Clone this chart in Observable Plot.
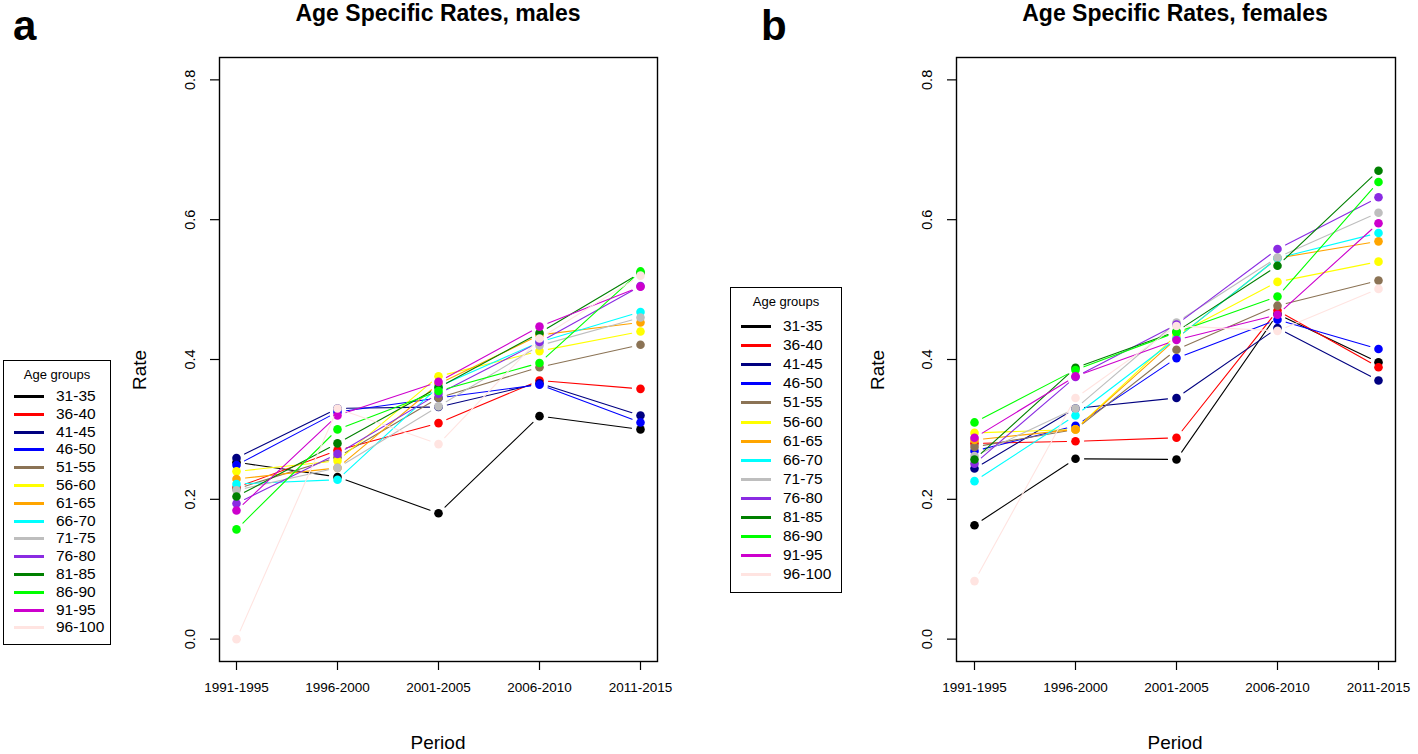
<!DOCTYPE html>
<html><head><meta charset="utf-8">
<script src="https://cdn.jsdelivr.net/npm/d3@7"></script>
<script src="https://cdn.jsdelivr.net/npm/@observablehq/plot@0.6"></script>
<style>
body{margin:0;background:#fff;font-family:"Liberation Sans",Arial,sans-serif;}
#root{position:relative;width:1418px;height:754px;overflow:hidden;background:#fff;}
.svgwrap{position:absolute;top:0;}
.t{position:absolute;white-space:nowrap;color:#000;line-height:1;}
.title{font-weight:bold;font-size:23px;transform:translateX(-50%);}
.panel{font-weight:bold;font-size:42px;}
.xlab{font-size:19px;transform:translateX(-50%);}
.ylab{font-size:19px;transform:translate(-50%,-50%) rotate(-90deg);}
.legend{position:absolute;border:1px solid #000;background:#fff;padding:0;box-sizing:border-box;}
.legend .lt{position:absolute;font-size:13px;left:0;right:0;text-align:center;white-space:nowrap;}
.legend .it{position:absolute;left:0;right:0;height:18px;}
.legend .sw{position:absolute;left:10px;width:30px;height:3px;top:8px;}
.legend .tx{position:absolute;left:52px;top:0;font-size:15.5px;line-height:18px;white-space:nowrap;}
</style></head><body><div id="root"></div>
<script>
const periods = ["1991-1995","1996-2000","2001-2005","2006-2010","2011-2015"];
const ageGroups = ["31-35","36-40","41-45","46-50","51-55","56-60","61-65","66-70","71-75","76-80","81-85","86-90","91-95","96-100"];
const groupColors = ["#000000","#ff0000","#000080","#0000ff","#8b7355","#ffff00","#ffa500","#00ffff","#bebebe","#8a2be2","#008000","#00ff00","#cd00cd","#ffe4e1"];
const yTicks = [0, 0.2, 0.4, 0.6, 0.8];

// male rates: one row per age group, one value per period
const maleRates = [
  [0.253, 0.232, 0.180, 0.319, 0.300], // 31-35
  [0.217, 0.270, 0.309, 0.370, 0.358], // 36-40
  [0.259, 0.330, 0.332, 0.366, 0.320], // 41-45
  [0.249, 0.325, 0.345, 0.364, 0.310], // 46-50
  [0.215, 0.260, 0.345, 0.389, 0.421], // 51-55
  [0.240, 0.255, 0.376, 0.412, 0.440], // 56-60
  [0.229, 0.245, 0.365, 0.435, 0.453], // 61-65
  [0.222, 0.228, 0.361, 0.425, 0.468], // 66-70
  [0.213, 0.245, 0.333, 0.420, 0.460], // 71-75
  [0.194, 0.265, 0.351, 0.425, 0.505], // 76-80
  [0.204, 0.280, 0.360, 0.438, 0.524], // 81-85
  [0.157, 0.300, 0.355, 0.395, 0.526], // 86-90
  [0.184, 0.320, 0.368, 0.447, 0.504], // 91-95
  [0.000, 0.330, 0.279, 0.430, 0.520]  // 96-100
];
// female rates
const femaleRates = [
  [0.163, 0.258, 0.257, 0.465, 0.396], // 31-35
  [0.280, 0.283, 0.288, 0.470, 0.389], // 36-40
  [0.244, 0.330, 0.345, 0.445, 0.370], // 41-45
  [0.269, 0.305, 0.402, 0.457, 0.415], // 46-50
  [0.275, 0.300, 0.414, 0.477, 0.513], // 51-55
  [0.295, 0.300, 0.435, 0.511, 0.540], // 56-60
  [0.285, 0.300, 0.430, 0.545, 0.569], // 61-65
  [0.226, 0.320, 0.430, 0.545, 0.581], // 66-70
  [0.262, 0.330, 0.453, 0.546, 0.610], // 71-75
  [0.251, 0.375, 0.450, 0.558, 0.632], // 76-80
  [0.257, 0.388, 0.440, 0.534, 0.670], // 81-85
  [0.310, 0.385, 0.439, 0.490, 0.654], // 86-90
  [0.288, 0.376, 0.428, 0.464, 0.595], // 91-95
  [0.083, 0.345, 0.448, 0.441, 0.501]  // 96-100
];

const root = document.getElementById("root");

function panel(rates, left, width, marginLeft, marginRight) {
  const marks = [];
  rates.forEach((row, i) => {
    const pts = row.map((v, j) => ({period: periods[j], rate: v}));
    const segs = pts.slice(1).map((p, j) => ({p1: pts[j].period, r1: pts[j].rate, p2: p.period, r2: p.rate}));
    marks.push(Plot.arrow(segs, {x1: "p1", y1: "r1", x2: "p2", y2: "r2", stroke: groupColors[i], strokeWidth: 1.1, headLength: 0, insetStart: 9, insetEnd: 9}));
    marks.push(Plot.dot(pts, {x: "period", y: "rate", fill: groupColors[i], r: 4.3}));
  });
  const chart = Plot.plot({
    width, height: 754,
    marginLeft, marginRight, marginTop: 57, marginBottom: 93,
    style: {fontFamily: "Liberation Sans, Arial, sans-serif", background: "transparent", overflow: "visible"},
    x: {type: "point", domain: periods, padding: 0.16, axis: null},
    y: {domain: [-0.032, 0.832], axis: null},
    marks: [
      Plot.axisX({ticks: periods, tickSize: 9, tickPadding: 12, fontSize: 13.5, label: null, stroke: "#000", strokeWidth: 1.2}),
      Plot.axisY({ticks: yTicks, tickFormat: d3.format(".1f"), tickSize: 9, tickPadding: 16, tickRotate: -90, fontSize: 14.5, label: null, stroke: "#000", strokeWidth: 1.2}),
      Plot.frame({stroke: "#000", strokeWidth: 1.4}),
      ...marks
    ]
  });
  const wrap = document.createElement("div");
  wrap.className = "svgwrap";
  wrap.style.left = left + "px";
  wrap.appendChild(chart);
  root.appendChild(wrap);
}

panel(maleRates, 0, 700, 219, 43);
panel(femaleRates, 740, 678, 216, 23);

function addText(cls, text, x, y) {
  const d = document.createElement("div");
  d.className = "t " + cls;
  d.textContent = text;
  d.style.left = x + "px";
  d.style.top = y + "px";
  root.appendChild(d);
  return d;
}
addText("panel", "a", 13, 5);
addText("panel", "b", 761, 5);
addText("title", "Age Specific Rates, males", 438, 2);
addText("title", "Age Specific Rates, females", 1175, 2);
addText("xlab", "Period", 438, 733);
addText("xlab", "Period", 1175, 733);
addText("ylab", "Rate", 139, 370);
addText("ylab", "Rate", 877, 370);

function legend(x, y, w, h, titleTop, firstTop, step) {
  const lg = document.createElement("div");
  lg.className = "legend";
  Object.assign(lg.style, {left: x + "px", top: y + "px", width: w + "px", height: h + "px"});
  const t = document.createElement("div");
  t.className = "lt"; t.textContent = "Age groups"; t.style.top = titleTop + "px";
  lg.appendChild(t);
  ageGroups.forEach((g, i) => {
    const it = document.createElement("div");
    it.className = "it";
    it.style.top = (firstTop + i * step) + "px";
    const sw = document.createElement("div");
    sw.className = "sw"; sw.style.background = groupColors[i];
    const tx = document.createElement("div");
    tx.className = "tx"; tx.textContent = g;
    it.appendChild(sw); it.appendChild(tx);
    lg.appendChild(it);
  });
  root.appendChild(lg);
}
legend(3, 360, 108, 285, 6, 26, 17.8);
legend(730, 287, 112, 306, 6, 29, 19.1);
</script>
</body></html>
